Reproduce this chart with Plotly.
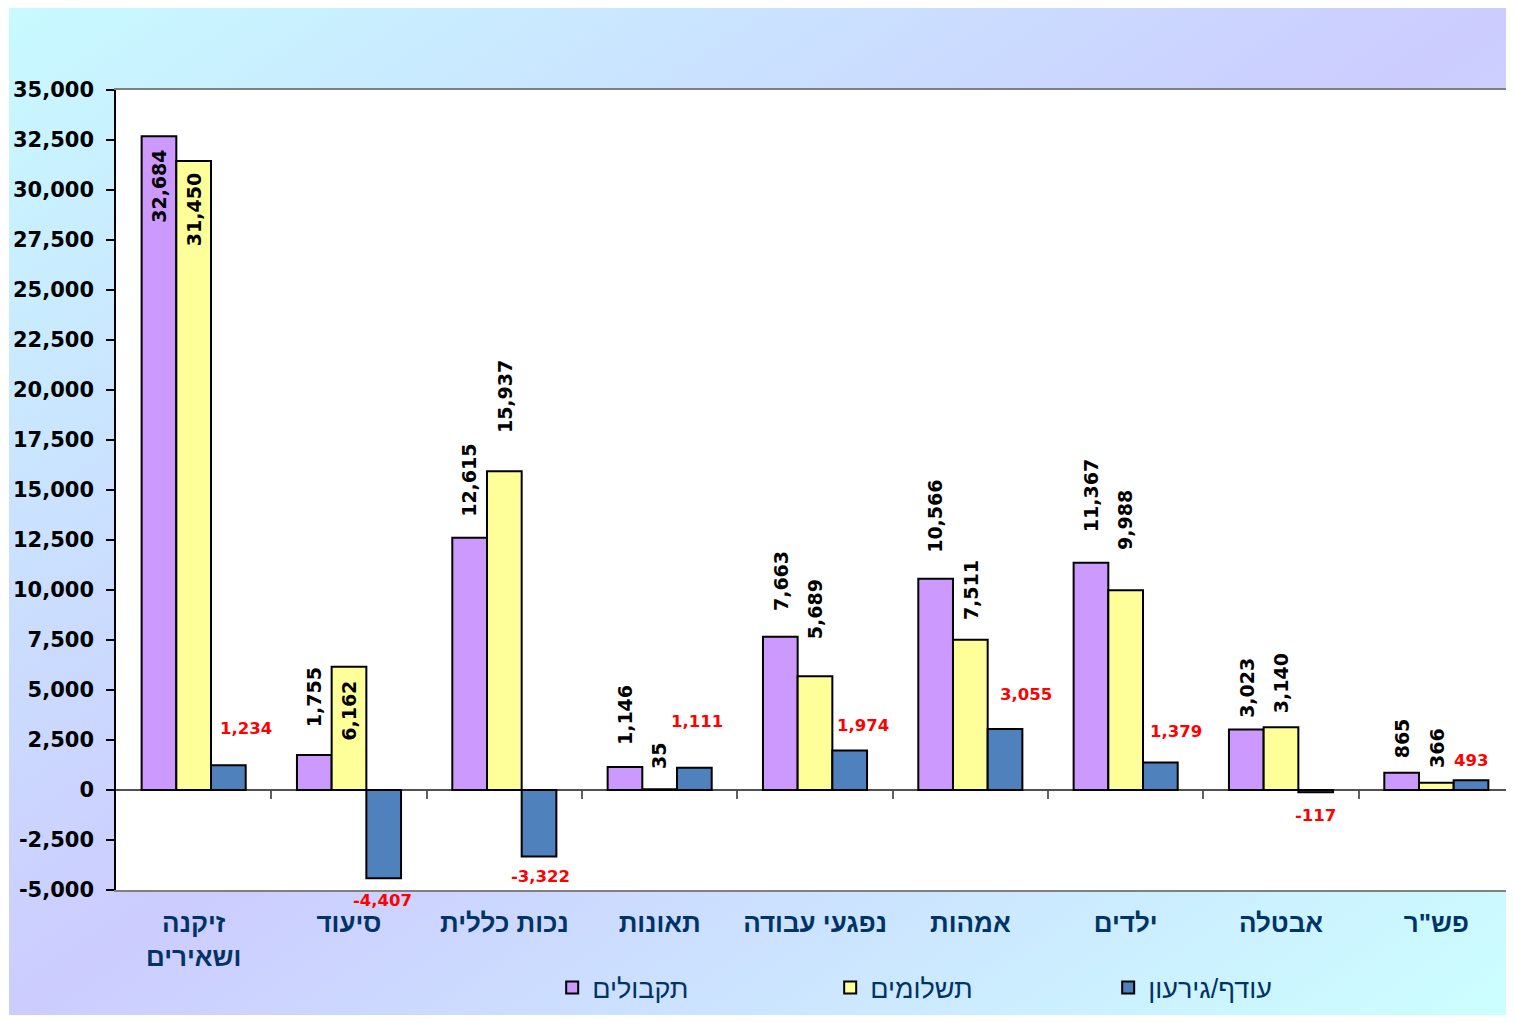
import base64
import plotly.graph_objects as go

# ---------------- data ----------------
categories = ["זיקנה<br>ושאירים", "סיעוד", "נכות כללית", "תאונות", "נפגעי עבודה",
              "אמהות", "ילדים", "אבטלה", 'פש"ר']
receipts = [32684, 1755, 12615, 1146, 7663, 10566, 11367, 3023, 865]
payments = [31450, 6162, 15937, 35, 5689, 7511, 9988, 3140, 366]
balance = [1234, -4407, -3322, 1111, 1974, 3055, 1379, -117, 493]
series_names = ["תקבולים", "תשלומים", "עודף/גירעון"]
y_ticks = [-5000, -2500, 0, 2500, 5000, 7500, 10000, 12500, 15000, 17500,
           20000, 22500, 25000, 27500, 30000, 32500, 35000]

# label nudges (pixels): +ve = above bar end, -ve = inside bar below its top
receipts_label_gap = [-12, 27, 20, 21, 25, 25, 30, 11, 13]
payments_label_gap = [-11, -13, 37, 19, 36, 19, 39, 13, 14]
balance_label_dx = [18, -1, 1, 3, 13, 21, 16, 0, 0]
balance_label_dy = [37, 22, 20, 46, 25, 34, 31, 23, 20]

# ---------------- style ----------------
W, H = 1506, 1007
ML, MR, MT, MB = 108, 0, 82, 125
PW, PH = W - ML - MR, H - MT - MB
BARGAP = 0.33
FONT = "DejaVu Sans, Verdana, sans-serif"
HEB = "Liberation Sans, Arial, DejaVu Sans, sans-serif"
colors = ["#CC99FF", "#FFFF99", "#4F81BD"]
NAVY = "#003366"

fig = go.Figure()
for name, vals, col in zip(series_names, [receipts, payments, balance], colors):
    fig.add_trace(go.Bar(
        x=list(range(len(categories))), y=vals, name=name,
        marker=dict(color=col, line=dict(color="black", width=2)),
        hoverinfo="skip",
    ))

# invisible trace for the tick marks along the zero line
fig.add_trace(go.Scatter(x=list(range(len(categories))), y=[0] * len(categories),
                         xaxis="x2", mode="none", showlegend=False, hoverinfo="skip"))

# ---------------- labels ----------------
bw_px = PW / len(categories) * (1 - BARGAP) / 3
ann = []
for i, (r, p, b) in enumerate(zip(receipts, payments, balance)):
    for v, gap, k in ((r, receipts_label_gap[i], -1), (p, payments_label_gap[i], 0)):
        ann.append(dict(
            x=i, y=v, xref="x", yref="y", text=f"{v:,}", showarrow=False,
            textangle=-90, xshift=k * bw_px, yshift=gap,
            yanchor="bottom" if gap > 0 else "top", xanchor="center",
            font=dict(family=FONT, size=19, color="black", weight="bold"),
            borderpad=0,
        ))
    sgn = 1 if b >= 0 else -1
    ann.append(dict(
        x=i, y=b, xref="x", yref="y", text=f"{b:,}", showarrow=False,
        xshift=bw_px + balance_label_dx[i], yshift=sgn * balance_label_dy[i],
        yanchor="middle", xanchor="center",
        font=dict(family=FONT, size=16.5, color="#FF0000", weight="bold"),
        borderpad=0,
    ))

# ---------------- background gradient ----------------
svg = (
    '<svg xmlns="http://www.w3.org/2000/svg" width="1505" height="1007" '
    'viewBox="0 0 1505 1007" preserveAspectRatio="none">'
    '<defs><linearGradient id="g" x1="0" y1="0" x2="1" y2="1">'
    '<stop offset="0" stop-color="#C8FAFF"/>'
    '<stop offset="0.5" stop-color="#CCCCFF"/>'
    '<stop offset="1" stop-color="#CCFFFF"/>'
    '</linearGradient></defs>'
    '<rect width="1505" height="1007" fill="url(#g)"/></svg>'
)
src = "data:image/svg+xml;base64," + base64.b64encode(svg.encode()).decode()

fig.update_layout(
    width=W, height=H, autosize=False,
    margin=dict(l=ML, r=MR, t=MT, b=MB, pad=0),
    paper_bgcolor="white", plot_bgcolor="white",
    barmode="group", bargap=BARGAP, bargroupgap=0,
    font=dict(family=FONT),
    images=[dict(source=src, xref="paper", yref="paper",
                 x=(1 - ML) / PW, y=(H - MB) / PH,
                 sizex=(W - 1) / PW, sizey=H / PH,
                 xanchor="left", yanchor="top", sizing="stretch", layer="below")],
    shapes=[dict(type="rect", xref="paper", yref="paper", x0=0, x1=1, y0=0, y1=1,
                 fillcolor="white", line=dict(width=0), layer="below")],
    annotations=ann,
    showlegend=True,
    legend=dict(orientation="h", x=0.312, xanchor="left", y=-0.1225, yanchor="middle",
                font=dict(family=HEB, size=27, color=NAVY),
                entrywidth=233, entrywidthmode="pixels",
                bgcolor="rgba(0,0,0,0)", traceorder="normal"),
    xaxis=dict(
        tickmode="array", tickvals=list(range(len(categories))), ticktext=categories,
        range=[-0.5, len(categories) - 0.5],
        showline=True, linecolor="#808080", linewidth=2, mirror=True,
        ticks="", ticklabelstandoff=9, showgrid=False, zeroline=False,
        tickfont=dict(family=HEB, size=26, color=NAVY, weight="bold"),
        fixedrange=True,
    ),
    xaxis2=dict(
        overlaying="x", anchor="free", position=(0 - y_ticks[0]) / (y_ticks[-1] - y_ticks[0]),
        range=[-0.5, len(categories) - 0.5], tickmode="array",
        tickvals=[i + 0.5 for i in range(len(categories) - 1)],
        ticks="outside", ticklen=8, tickwidth=1.5, tickcolor="#606060",
        showticklabels=False, showline=False, showgrid=False, zeroline=False,
    ),
    yaxis=dict(
        range=[y_ticks[0], y_ticks[-1]], tickmode="array", tickvals=y_ticks,
        ticktext=[f"{v:,}" for v in y_ticks],
        showline=True, linecolor="black", linewidth=1.5,
        ticks="outside", ticklen=8, tickwidth=1.5, tickcolor="black",
        ticklabelstandoff=8,
        showgrid=False, zeroline=True, zerolinecolor="#505050", zerolinewidth=1.5,
        tickfont=dict(family=FONT, size=21, color="black", weight="bold"),
        fixedrange=True,
    ),
)

fig.write_html("out.html")
